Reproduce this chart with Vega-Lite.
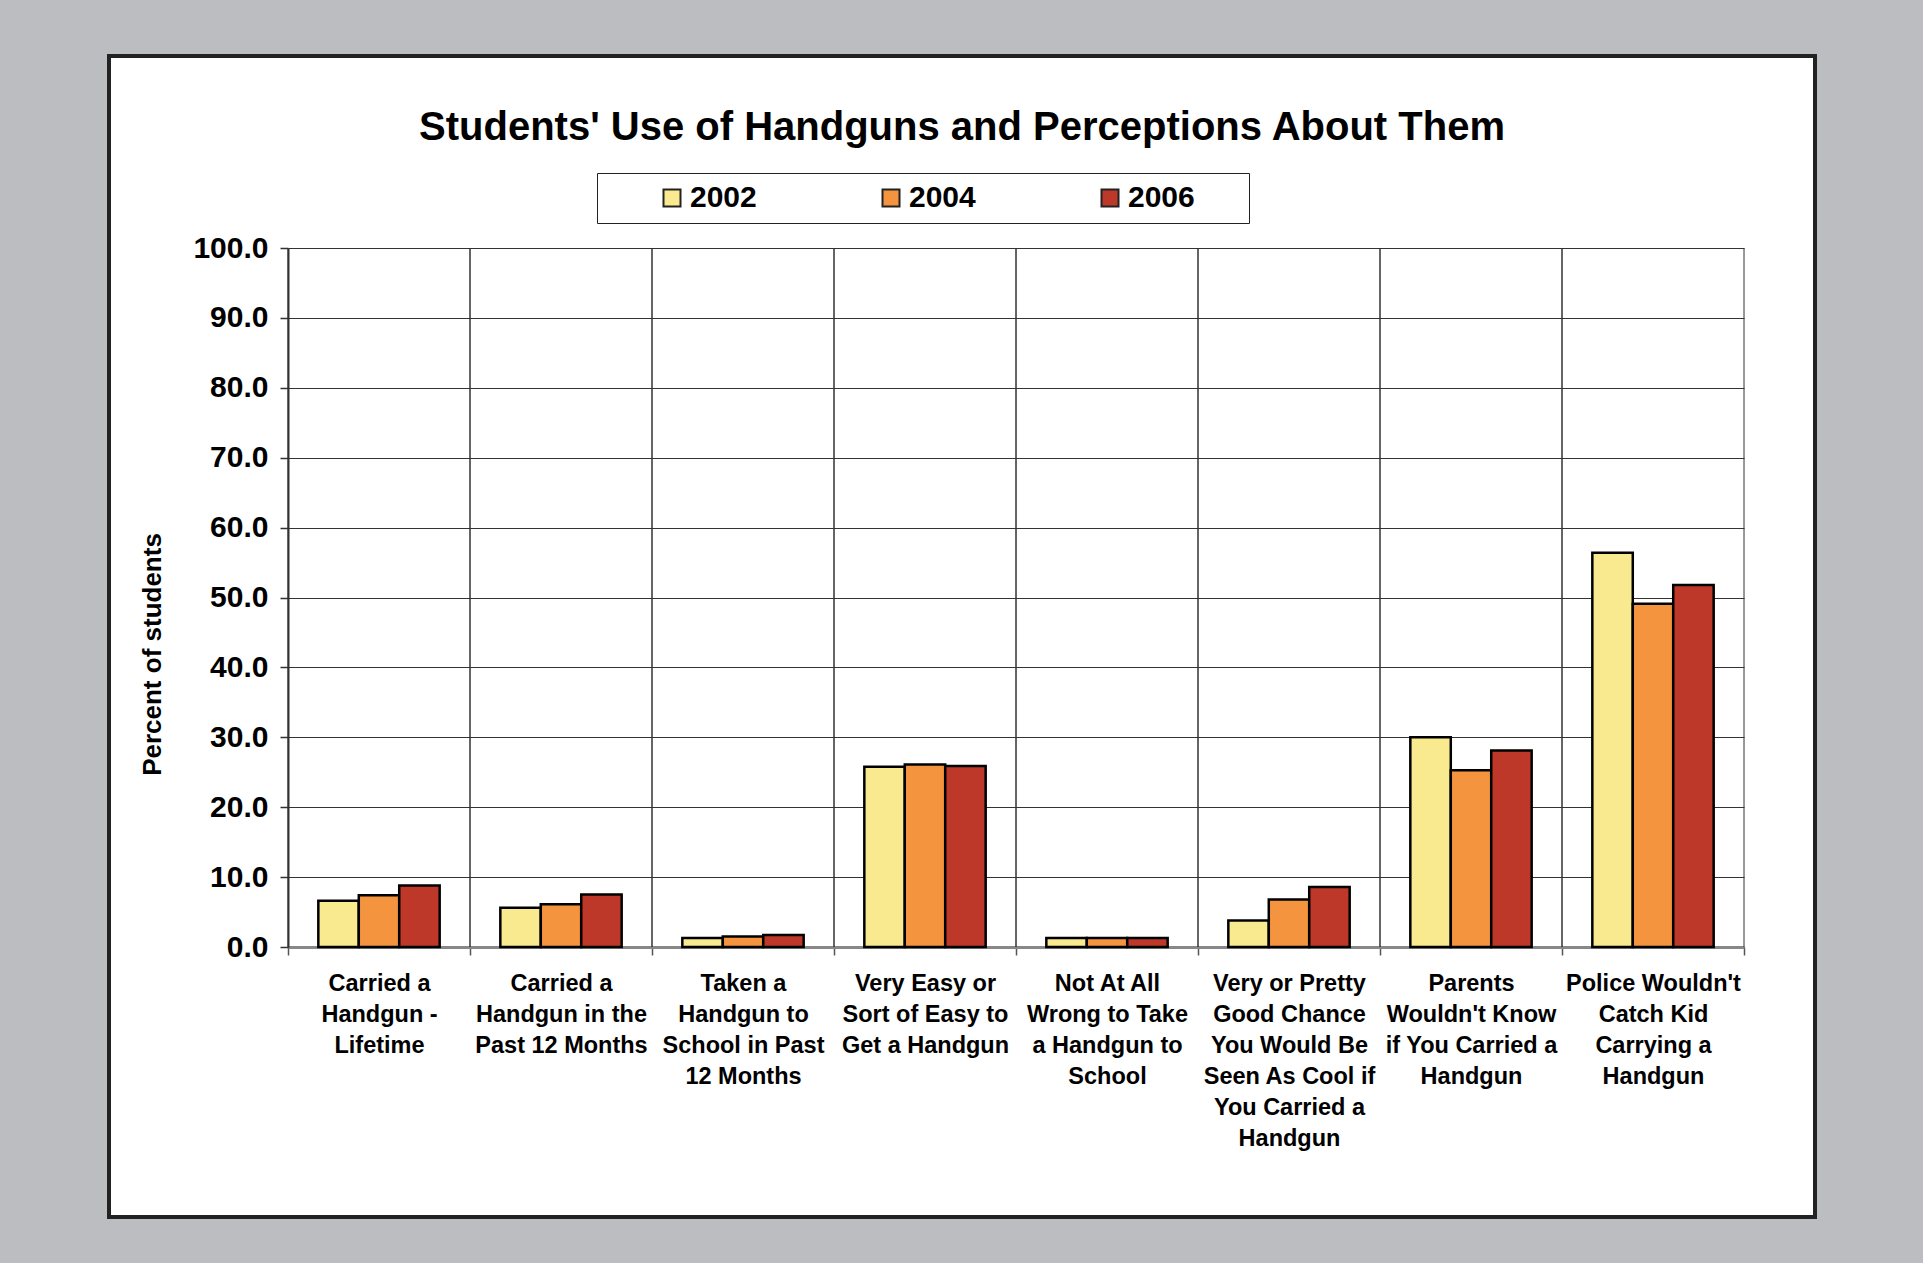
{
  "$schema": "https://vega.github.io/schema/vega-lite/v6.json",
  "autosize": "none",
  "width": 1706,
  "height": 1161,
  "padding": {"left": 109, "top": 56, "right": 108, "bottom": 46},
  "background": "#BCBDC1",
  "config": {
    "view": {"fill": "white", "stroke": "#222222", "strokeWidth": 4},
    "font": "Liberation Sans",
    "axisX": {
      "tickBand": "extent",
      "grid": false,
      "domainColor": "#888888",
      "domainWidth": 3,
      "tickColor": "#555555",
      "tickSize": 8,
      "tickWidth": 1.5,
      "labelAngle": 0,
      "labelExpr": "split(datum.label, '|')",
      "labelFontSize": 23.5,
      "labelFontWeight": "bold",
      "labelColor": "black",
      "labelLineHeight": 31,
      "labelPadding": 16,
      "labelLimit": 400,
      "labelBaseline": "top"
    },
    "axisY": {
      "grid": true,
      "gridColor": "#333333",
      "gridWidth": 1,
      "gridOpacity": 1,
      "domainColor": "#333333",
      "domainWidth": 2,
      "tickColor": "#333333",
      "tickSize": 8,
      "tickWidth": 1.5,
      "labelFontSize": 30,
      "labelFontWeight": "bold",
      "labelColor": "black",
      "labelPadding": 12,
      "titleFontSize": 26,
      "titleFontWeight": "bold",
      "titleColor": "black",
      "titleX": -123,
      "titleY": 598
    }
  },
  "title": {
    "text": "Students' Use of Handguns and Perceptions About Them",
    "anchor": "middle",
    "frame": "group",
    "orient": "top",
    "baseline": "alphabetic",
    "offset": 0,
    "dy": 124,
    "fontSize": 40,
    "fontWeight": "bold",
    "color": "black",
    "font": "Liberation Sans"
  },
  "data": {
    "values": [
      {"measure": "Carried a|Handgun -|Lifetime", "year": "2002", "percent": 6.6},
      {"measure": "Carried a|Handgun -|Lifetime", "year": "2004", "percent": 7.4},
      {"measure": "Carried a|Handgun -|Lifetime", "year": "2006", "percent": 8.8},
      {"measure": "Carried a|Handgun in the|Past 12 Months", "year": "2002", "percent": 5.6},
      {"measure": "Carried a|Handgun in the|Past 12 Months", "year": "2004", "percent": 6.1},
      {"measure": "Carried a|Handgun in the|Past 12 Months", "year": "2006", "percent": 7.5},
      {"measure": "Taken a|Handgun to|School in Past|12 Months", "year": "2002", "percent": 1.3},
      {"measure": "Taken a|Handgun to|School in Past|12 Months", "year": "2004", "percent": 1.5},
      {"measure": "Taken a|Handgun to|School in Past|12 Months", "year": "2006", "percent": 1.7},
      {"measure": "Very Easy or|Sort of Easy to|Get a Handgun", "year": "2002", "percent": 25.8},
      {"measure": "Very Easy or|Sort of Easy to|Get a Handgun", "year": "2004", "percent": 26.1},
      {"measure": "Very Easy or|Sort of Easy to|Get a Handgun", "year": "2006", "percent": 25.9},
      {"measure": "Not At All|Wrong to Take|a Handgun to|School", "year": "2002", "percent": 1.3},
      {"measure": "Not At All|Wrong to Take|a Handgun to|School", "year": "2004", "percent": 1.3},
      {"measure": "Not At All|Wrong to Take|a Handgun to|School", "year": "2006", "percent": 1.3},
      {"measure": "Very or Pretty|Good Chance|You Would Be|Seen As Cool if|You Carried a|Handgun", "year": "2002", "percent": 3.8},
      {"measure": "Very or Pretty|Good Chance|You Would Be|Seen As Cool if|You Carried a|Handgun", "year": "2004", "percent": 6.8},
      {"measure": "Very or Pretty|Good Chance|You Would Be|Seen As Cool if|You Carried a|Handgun", "year": "2006", "percent": 8.6},
      {"measure": "Parents|Wouldn't Know|if You Carried a|Handgun", "year": "2002", "percent": 30.0},
      {"measure": "Parents|Wouldn't Know|if You Carried a|Handgun", "year": "2004", "percent": 25.3},
      {"measure": "Parents|Wouldn't Know|if You Carried a|Handgun", "year": "2006", "percent": 28.1},
      {"measure": "Police Wouldn't|Catch Kid|Carrying a|Handgun", "year": "2002", "percent": 56.4},
      {"measure": "Police Wouldn't|Catch Kid|Carrying a|Handgun", "year": "2004", "percent": 49.1},
      {"measure": "Police Wouldn't|Catch Kid|Carrying a|Handgun", "year": "2006", "percent": 51.8}
    ]
  },
  "layer": [
    {
      "transform": [{"filter": "datum.year == '2002'"}],
      "mark": {"type": "rule", "color": "#333333", "strokeWidth": 1},
      "encoding": {
        "x": {"field": "measure", "type": "nominal", "sort": null, "bandPosition": 0, "title": null, "axis": {"offset": -270}},
        "y": {"datum": 0, "type": "quantitative", "title": "Percent of students", "axis": {"offset": -179, "values": [0, 10, 20, 30, 40, 50, 60, 70, 80, 90, 100], "format": ".1f"}},
        "y2": {"datum": 100}
      }
    },
    {
      "transform": [{"filter": "datum.year == '2002'"}],
      "mark": {"type": "rule", "color": "#333333", "strokeWidth": 1},
      "encoding": {
        "x": {"field": "measure", "type": "nominal", "sort": null, "bandPosition": 1, "title": null, "axis": {"offset": -270}},
        "y": {"datum": 0, "type": "quantitative", "title": "Percent of students", "axis": {"offset": -179, "values": [0, 10, 20, 30, 40, 50, 60, 70, 80, 90, 100], "format": ".1f"}},
        "y2": {"datum": 100}
      }
    },
    {
      "mark": {"type": "bar", "stroke": "black", "strokeWidth": 2.5},
      "encoding": {
        "x": {
          "field": "measure",
          "type": "nominal",
          "sort": null,
          "title": null,
          "scale": {"range": [179, 1635], "paddingInner": 0, "paddingOuter": 0},
          "axis": {"offset": -270}
        },
        "xOffset": {
          "field": "year",
          "type": "nominal",
          "scale": {"paddingInner": 0, "paddingOuter": 0.75}
        },
        "y": {
          "field": "percent",
          "type": "quantitative",
          "title": "Percent of students",
          "scale": {"domain": [0, 100], "range": [891, 192], "nice": false},
          "axis": {"offset": -179, "values": [0, 10, 20, 30, 40, 50, 60, 70, 80, 90, 100], "format": ".1f"}
        },
        "color": {
          "field": "year",
          "type": "nominal",
          "scale": {"domain": ["2002", "2004", "2006"], "range": ["#FAEA8F", "#F5943F", "#BD3828"]},
          "legend": {
            "title": " ",
            "titleOrient": "left",
            "titleFontSize": 2,
            "titlePadding": 50,
            "orient": "none",
            "legendX": 488,
            "legendY": 117,
            "direction": "horizontal",
            "columns": 3,
            "fillColor": "white",
            "strokeColor": "#222222",
            "padding": 10,
            "symbolType": "square",
            "symbolSize": 289,
            "symbolStrokeColor": "#222222",
            "symbolStrokeWidth": 2,
            "symbolOpacity": 1,
            "labelFontSize": 30,
            "labelFontWeight": "bold",
            "labelColor": "black",
            "labelOffset": 3,
            "labelExpr": "datum.label + '\u2800\u2800'",
            "columnPadding": 75
          }
        }
      }
    }
  ]
}
